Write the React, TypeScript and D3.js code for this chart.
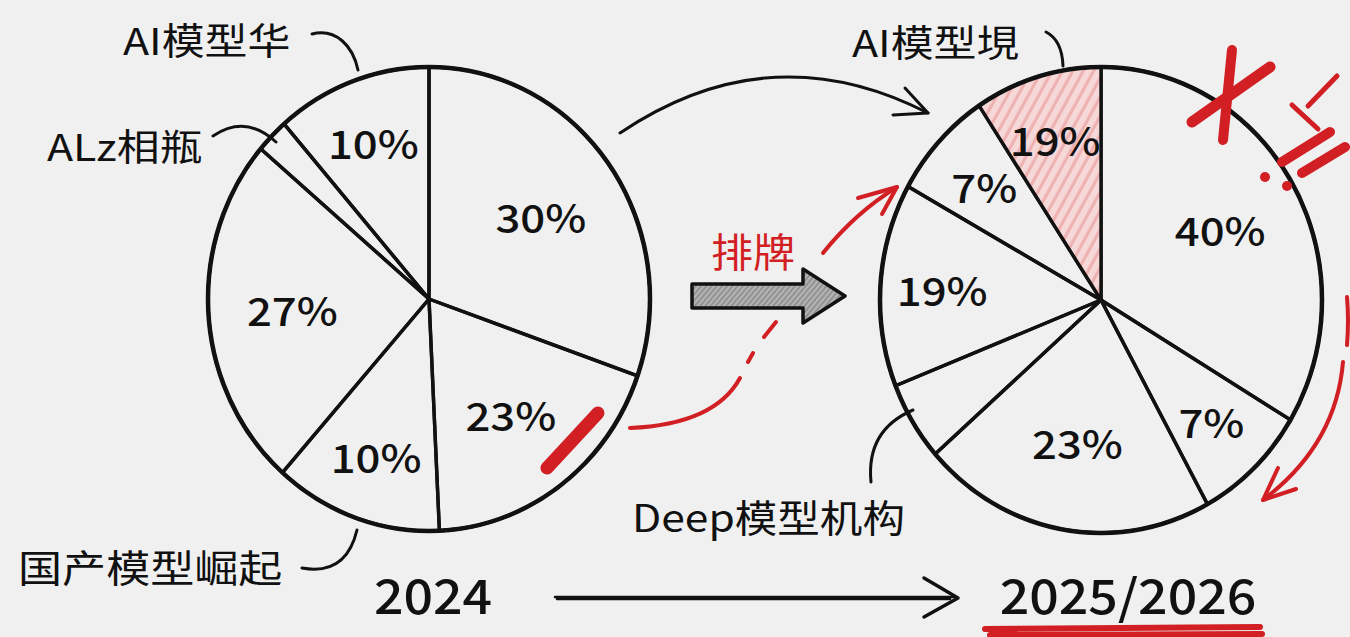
import React from "react";
import * as d3 from "d3";

// ---- data ----
// slice shares measured from slice angles (clockwise from 12 o'clock)
const leftShares = [30.4, 18.9, 12.3, 24.7, 2.4, 11.4];
const leftLabels = ["30%", "23%", "10%", "27%", "", "10%"];
const rightShares = [33.6, 8.4, 21.5, 5.5, 14.1, 7.6, 9.3];
const rightLabels = ["40%", "7%", "23%", "", "19%", "7%", "19%"];
const rightHighlighted = [false, false, false, false, false, false, true];
const yearLabels = ["2024", "2025/2026"];
const leftCallouts = ["AI模型华", "ALz相瓶", "国产模型崛起"];
const rightCallouts = ["AI模型垷", "Deep模型机构"];
const middleLabel = "排牌";

const FONT = "'Noto Sans CJK SC', 'Noto Sans', sans-serif";
const INK = "#111";
const RED = "#d21f24";
const BG = "#f0f0f0";
const STRETCH = 1.16;

function Label({ x, y, text, size, anchor = "middle", color = INK, sx = STRETCH, weight = 400 }: any) {
  return (
    <text
      transform={`translate(${x},${y}) scale(${sx},1)`}
      textAnchor={anchor}
      dominantBaseline="central"
      fontFamily={FONT}
      fontSize={size}
      fontWeight={weight}
      fill={color}
    >
      {text}
    </text>
  );
}

function Pie({ cx, cy, rx, ry, shares, labels, highlight }: any) {
  const pie = d3.pie<number>().sort(null).value((d) => d);
  const arcs = pie(shares);
  const arc = d3.arc<any>().innerRadius(0).outerRadius(rx);
  const sy = ry / rx;
  const labelArc = (r: number) => d3.arc<any>().innerRadius(r).outerRadius(r);
  return (
    <g>
      <g transform={`translate(${cx},${cy}) scale(1,${sy})`}>
        {arcs.map((a, i) => (
          <path
            key={i}
            d={arc(a) as string}
            fill={highlight && highlight[i] ? "url(#pinkHatch)" : "none"}
            stroke={INK}
            strokeWidth={3.4}
            strokeLinejoin="round"
            vectorEffect="non-scaling-stroke"
          />
        ))}
        <circle r={rx} fill="none" stroke={INK} strokeWidth={4.5} vectorEffect="non-scaling-stroke" />
      </g>
      {arcs.map((a, i) => {
        if (!labels[i]) return null;
        const share = (a.endAngle - a.startAngle) / (2 * Math.PI) * 100;
        const r = share < 15 ? rx * 0.72 : rx * 0.62;
        const c = labelArc(r).centroid(a);
        return <Label key={i} x={cx + c[0]} y={cy + c[1] * sy} text={labels[i]} size={39} weight={500} sx={1.12} />;
      })}
    </g>
  );
}

export default function App() {
  return (
    <svg
      width={1350}
      height={637}
      viewBox="0 0 1350 637"
      style={{ position: "fixed", left: 0, top: 0, display: "block" }}
    >
      <defs>
        <pattern id="pinkHatch" width={9} height={9} patternUnits="userSpaceOnUse" patternTransform="rotate(30)">
          <rect width={9} height={9} fill="#f6d8d8" />
          <line x1={2} y1={0} x2={2} y2={9} stroke="#eeb0b0" strokeWidth={3} />
        </pattern>
        <pattern id="grayHatch" width={4} height={4} patternUnits="userSpaceOnUse" patternTransform="rotate(40)">
          <rect width={4} height={4} fill="#b4b4b4" />
          <line x1={1} y1={0} x2={1} y2={4} stroke="#767676" strokeWidth={1.1} />
        </pattern>
      </defs>
      <rect width={1350} height={637} fill={BG} />

      {/* pies */}
      <Pie cx={429} cy={299} rx={221} ry={232} shares={leftShares} labels={leftLabels} />
      <Pie cx={1101} cy={300} rx={221} ry={233} shares={rightShares} labels={rightLabels} highlight={rightHighlighted} />

      {/* left callouts */}
      <Label x={123} y={39} text={leftCallouts[0]} size={37} anchor="start" />
      <path d="M312,34 C336,28 353,46 358,70" fill="none" stroke={INK} strokeWidth={3} strokeLinecap="round" />
      <Label x={47} y={145} text={leftCallouts[1]} size={37} anchor="start" />
      <path d="M213,136 Q246,114 276,142" fill="none" stroke={INK} strokeWidth={3} strokeLinecap="round" />
      <Label x={18} y={565} text={leftCallouts[2]} size={38} anchor="start" />
      <path d="M302,568 Q346,576 357,530" fill="none" stroke={INK} strokeWidth={3} strokeLinecap="round" />

      {/* right callouts */}
      <Label x={852} y={41} text={rightCallouts[0]} size={37} anchor="start" />
      <path d="M1046,32 Q1062,40 1063,66" fill="none" stroke={INK} strokeWidth={3} strokeLinecap="round" />
      <Label x={632} y={516} text={rightCallouts[1]} size={38} anchor="start" sx={1.12} />
      <path d="M871,482 Q866,430 913,410" fill="none" stroke={INK} strokeWidth={3} strokeLinecap="round" />

      {/* years */}
      <Label x={433} y={593} text={yearLabels[0]} size={48} weight={500} sx={1.08} />
      <Label x={1128} y={593} text={yearLabels[1]} size={48} weight={500} sx={1.08} />
      <path d="M555,597 L955,597 M557,599 L950,599" fill="none" stroke={INK} strokeWidth={2.5} strokeLinecap="round" />
      <path d="M924,578 L958,598 L924,617" fill="none" stroke={INK} strokeWidth={3.5} strokeLinecap="round" strokeLinejoin="round" />
      <path d="M985,629 L1260,627 M990,635 L1262,634" fill="none" stroke={RED} strokeWidth={6} strokeLinecap="round" />

      {/* top arc arrow */}
      <path d="M620,133 Q770,32 928,113" fill="none" stroke={INK} strokeWidth={3} strokeLinecap="round" />
      <path d="M905,88 L928,113 L893,115" fill="none" stroke={INK} strokeWidth={3} strokeLinecap="round" strokeLinejoin="round" />

      {/* gray block arrow */}
      <polygon
        points="692,284 803,284 803,269 845,296 803,323 803,308 692,308"
        fill="url(#grayHatch)"
        stroke={INK}
        strokeWidth={3.5}
        strokeLinejoin="round"
      />
      <Label x={753} y={249} text={middleLabel} size={40} color={RED} sx={1.05} />

      {/* red dashed curve arrow */}
      <path d="M630,428 C700,425 728,400 740,378" fill="none" stroke={RED} strokeWidth={4} strokeLinecap="round" />
      <path d="M748,362 L753,353 M764,337 L776,322" fill="none" stroke={RED} strokeWidth={4} strokeLinecap="round" />
      <path d="M823,253 Q855,213 897,187" fill="none" stroke={RED} strokeWidth={4} strokeLinecap="round" />
      <path d="M858,198 L897,187 L882,214" fill="none" stroke={RED} strokeWidth={4} strokeLinecap="round" strokeLinejoin="round" />

      {/* red mark on left pie */}
      <path d="M598,413 L547,468" stroke={RED} strokeWidth={13} strokeLinecap="round" />

      {/* red scribbles top right */}
      <path d="M1232,50 L1223,140" stroke={RED} strokeWidth={10} strokeLinecap="round" />
      <path d="M1270,67 L1192,122" stroke={RED} strokeWidth={11} strokeLinecap="round" />
      <path d="M1337,76 L1308,106 M1292,105 L1318,129" fill="none" stroke={RED} strokeWidth={5} strokeLinecap="round" />
      <path d="M1330,132 L1282,162 M1345,147 L1302,173" fill="none" stroke={RED} strokeWidth={10} strokeLinecap="round" />
      <circle cx={1265} cy={177} r={5} fill={RED} />
      <circle cx={1287} cy={186} r={5} fill={RED} />

      {/* red curved arrow right */}
      <path d="M1347,297 Q1349,320 1347,345" fill="none" stroke={RED} strokeWidth={4} strokeLinecap="round" />
      <path d="M1343,362 Q1336,445 1263,500" fill="none" stroke={RED} strokeWidth={4} strokeLinecap="round" />
      <path d="M1278,468 L1263,500 L1296,489" fill="none" stroke={RED} strokeWidth={4} strokeLinecap="round" strokeLinejoin="round" />
    </svg>
  );
}
